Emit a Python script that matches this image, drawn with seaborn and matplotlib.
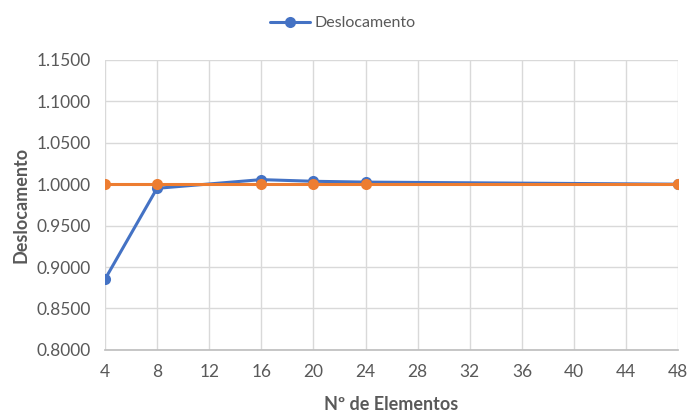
import matplotlib
matplotlib.use("Agg")
import matplotlib.pyplot as plt
import seaborn as sns
import pandas as pd

# dados
elementos = [4, 8, 16, 20, 24, 48]
deslocamento = [0.8850, 0.9950, 1.0055, 1.0035, 1.0025, 1.0000]
referencia = [1.0, 1.0, 1.0, 1.0, 1.0, 1.0]
x_ticks = [4, 8, 12, 16, 20, 24, 28, 32, 36, 40, 44, 48]
y_ticks = [0.80, 0.85, 0.90, 0.95, 1.00, 1.05, 1.10, 1.15]

sns.set_theme(style="white")
plt.rcParams['font.family'] = ['Lato', 'DejaVu Sans']

df = pd.DataFrame({"elementos": elementos, "Deslocamento": deslocamento, "ref": referencia})

fig, ax = plt.subplots(figsize=(6.9, 4.19), dpi=100)
fig.subplots_adjust(left=0.152, right=0.983, top=0.857, bottom=0.165)

blue = "#4472c4"
orange = "#ed7d31"

sns.lineplot(data=df, x="elementos", y="Deslocamento", ax=ax, color=blue, linewidth=2.2,
             marker="o", markersize=8, markeredgewidth=0, label="Deslocamento", zorder=3)
sns.lineplot(data=df, x="elementos", y="ref", ax=ax, color=orange, linewidth=2.2,
             marker="o", markersize=8, markeredgewidth=0, legend=False, zorder=4)

ax.set_xlim(4, 48)
ax.set_ylim(0.8, 1.15)
ax.set_xticks(x_ticks)
ax.set_yticks(y_ticks)
ax.set_yticklabels([f"{v:.4f}" for v in y_ticks])
ax.tick_params(axis="y", labelsize=12.5, labelcolor="#595959", length=0, pad=10)
ax.tick_params(axis="x", labelsize=12.5, labelcolor="#595959", length=0, pad=10)
ax.grid(True, color="#d9d9d9", linewidth=1)
for s in ["top", "right"]:
    ax.spines[s].set_visible(False)
ax.spines["left"].set_visible(False)
ax.spines["bottom"].set_color("#bfbfbf")

ax.set_xlabel("Nº de Elementos", fontsize=13, fontweight="bold", color="#595959", labelpad=12)
ax.set_ylabel("Deslocamento", fontsize=13, fontweight="bold", color="#595959", labelpad=5)

leg = ax.legend(loc="upper center", bbox_to_anchor=(0.415, 1.2), frameon=False, fontsize=11.5,
                handlelength=2.5, handletextpad=0.3, labelcolor="#595959")

fig.savefig("out.png", dpi=100)
